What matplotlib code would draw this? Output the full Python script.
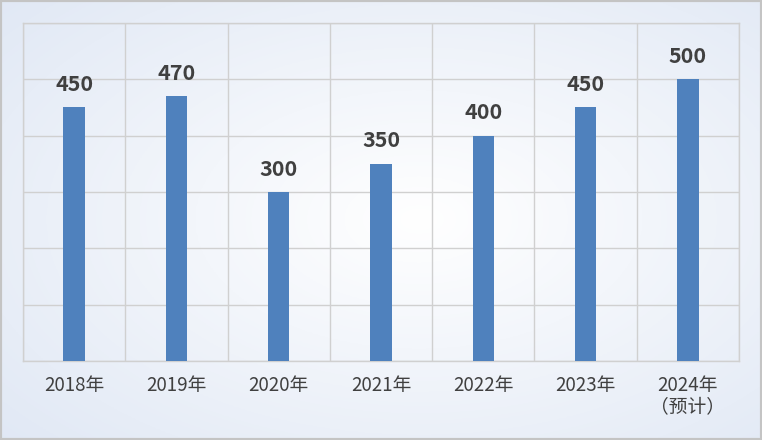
import numpy as np
import matplotlib.pyplot as plt
from matplotlib.patches import Rectangle

plt.rcParams['font.family'] = ['Noto Sans CJK SC', 'DejaVu Sans']

# data
years = ['2018年', '2019年', '2020年', '2021年', '2022年', '2023年', '2024年\n（预计）']
values = [450, 470, 300, 350, 400, 450, 500]

fig = plt.figure(figsize=(7.62, 4.40), dpi=100)

# radial gradient background
bg = fig.add_axes([0, 0, 1, 1], zorder=-10)
yy, xx = np.mgrid[0:1:200j, 0:1:300j]
r = np.sqrt(((xx - 0.55) / 0.75) ** 2 + ((yy - 0.5) / 0.75) ** 2)
r = np.clip(r, 0, 1)
c0 = np.array([1.0, 1.0, 1.0])
c1 = np.array([0.88, 0.91, 0.96])
img = c0[None, None, :] * (1 - r[..., None]) + c1[None, None, :] * r[..., None]
bg.imshow(img, extent=[0, 1, 0, 1], aspect='auto', origin='lower')
bg.axis('off')
bg.add_patch(Rectangle((0, 0), 1, 1, transform=bg.transAxes, fill=False,
                       edgecolor='#c4c4c4', linewidth=3))

ax = fig.add_axes([23 / 762, 1 - 361 / 440, 716 / 762, 338 / 440])
ax.set_facecolor('none')
x = np.arange(len(years))
ax.bar(x, values, width=0.21, color='#4f81bd', zorder=3)

for xi, v in zip(x, values):
    ax.annotate(str(v), (xi, v), xytext=(0, 9), textcoords='offset points',
                ha='center', va='bottom', fontsize=15.5, fontweight='bold',
                color='#404040')

ax.set_xlim(-0.5, len(years) - 0.5)
ax.set_ylim(0, 600)
ax.set_yticks(np.arange(0, 601, 100))
ax.set_yticklabels([])
ax.set_xticks(x)
ax.set_xticklabels(years, fontsize=13.5, color='#404040', linespacing=1.0)
ax.set_xticks(np.arange(-0.5, len(years), 1), minor=True)
ax.tick_params(axis='both', length=0, pad=10)
ax.tick_params(which='minor', length=0)
ax.grid(True, axis='y', color='#d0d0d0', linewidth=1, zorder=0)
ax.grid(True, axis='x', which='minor', color='#d0d0d0', linewidth=1, zorder=0)
for s in ax.spines.values():
    s.set_color('#d0d0d0')
    s.set_linewidth(1)

fig.savefig('out.png', dpi=100)
